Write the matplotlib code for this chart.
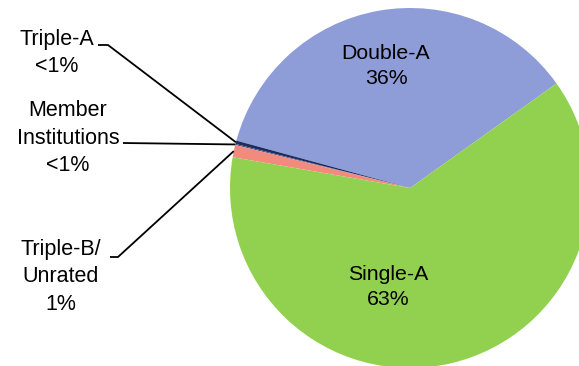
import numpy as np
import matplotlib.pyplot as plt

plt.rcParams['font.family'] = ['Liberation Sans', 'DejaVu Sans']

# Portfolio share by rating (percent)
ratings = ['Double-A', 'Triple-A', 'Member\nInstitutions', 'Triple-B/\nUnrated', 'Single-A']
shares = [35.9, 0.3, 0.1, 1.1, 62.6]
share_labels = ['36%', '<1%', '<1%', '1%', '63%']
colors = ['#8E9CD8', '#1F2D5E', '#3A4A8A', '#F28B7D', '#92D150']

W, H = 579, 366
fig = plt.figure(figsize=(W / 100, H / 100), dpi=100)
ax = fig.add_axes([0, 0, 1, 1])

cx, cy, r = 410, 178, 180
start = 35.5
wedges, _ = ax.pie(shares, colors=colors, startangle=start, counterclock=True,
                   center=(cx, cy), radius=r, frame=True,
                   wedgeprops=dict(linewidth=0))
ax.set_xlim(0, W)
ax.set_ylim(0, H)
ax.set_aspect('equal')
ax.axis('off')

# labels inside the two big slices
ax.text(386, H - 66, f'{ratings[0]}\n{share_labels[0]}', ha='center', va='center',
        fontsize=15.3, linespacing=1.38)
ax.text(388, H - 287, f'{ratings[4]}\n{share_labels[4]}', ha='center', va='center',
        fontsize=15.3, linespacing=1.38)

# outside labels with leader lines for the small slices
outside = [
    # index, text centre, elbow start, elbow end
    (1, (57, 53), (98, 45), (108, 45)),
    (2, (68, 138), (123, 143), (123, 143)),
    (3, (61, 277), (110, 257), (118, 257)),
]
for i, (tx, ty), (x0, y0), (x1, y1) in outside:
    w = wedges[i]
    mid = np.deg2rad((w.theta1 + w.theta2) / 2)
    px = cx + r * np.cos(mid)
    py = cy + r * np.sin(mid)
    ax.text(tx, H - ty, f'{ratings[i]}\n{share_labels[i]}', ha='center', va='center',
            fontsize=15.5, linespacing=1.38)
    ax.plot([x0, x1, px], [H - y0, H - y1, py], color='black', lw=1.3,
            solid_capstyle='butt')

fig.savefig('out.png', dpi=100)
